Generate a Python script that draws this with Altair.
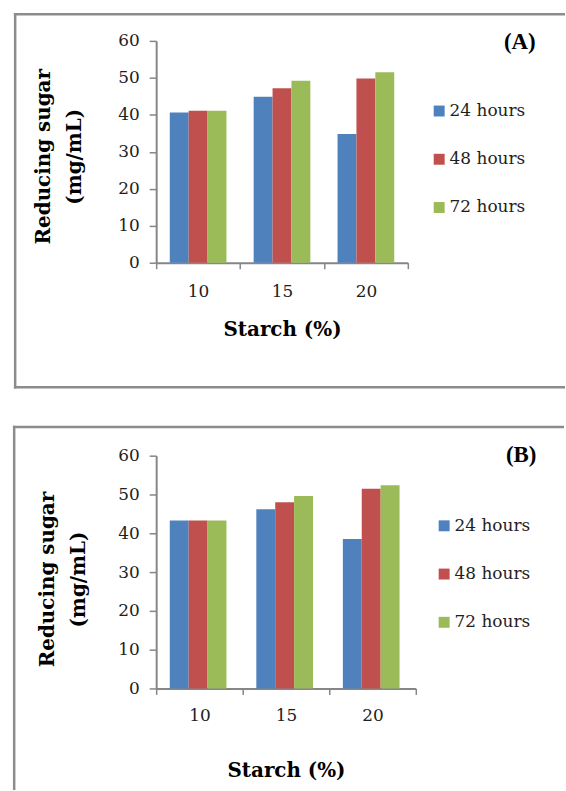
import altair as alt
import pandas as pd

# Starch concentration (%) on the x axis, incubation time as the bar groups
starch = ["10", "15", "20"]
durations = ["24 hours", "48 hours", "72 hours"]
colors = ["#4F81BD", "#C0504D", "#9BBB59"]
y_ticks = [0, 10, 20, 30, 40, 50, 60]

# Reducing sugar (mg/mL), panel (A)
a_24h = [40.6, 44.9, 34.8]
a_48h = [41.1, 47.2, 49.8]
a_72h = [41.1, 49.2, 51.5]

# Reducing sugar (mg/mL), panel (B)
b_24h = [43.3, 46.2, 38.5]
b_48h = [43.3, 48.0, 51.5]
b_72h = [43.3, 49.6, 52.4]

LABEL_FONT = "DejaVu Serif"
FRAME = "#8c8c8c"
AXIS = "#868686"


def long_table(series):
    rows = []
    for dur, vals in zip(durations, series):
        for s, v in zip(starch, vals):
            rows.append({"starch": s, "duration": dur, "value": v})
    return pd.DataFrame(rows)


one_row = pd.DataFrame({"k": [0]})


def frame_piece(x, x2, y, y2):
    return alt.Chart(one_row).mark_rect(color=FRAME).encode(
        x=alt.value(x), x2=alt.value(x2), y=alt.value(y), y2=alt.value(y2)
    )


def panel(df, tag, w, h, off_pad, legend_x, legend_y, ytitle_x, ytitle_y,
          xtitle_y, xlabel_pad, frame, tag_xy):
    bars = alt.Chart(df).mark_bar().encode(
        x=alt.X(
            "starch:N", sort=starch,
            scale=alt.Scale(paddingInner=0, paddingOuter=0),
            axis=alt.Axis(
                title="Starch (%)", labelAngle=0, tickBand="extent",
                tickSize=6, labelPadding=xlabel_pad,
                titleY=xtitle_y, titleBaseline="alphabetic",
            ),
        ),
        xOffset=alt.XOffset(
            "duration:N", sort=durations,
            scale=alt.Scale(paddingInner=0, paddingOuter=off_pad),
        ),
        y=alt.Y(
            "value:Q",
            scale=alt.Scale(domain=[0, 60], nice=False),
            axis=alt.Axis(
                values=y_ticks, title=["Reducing sugar", "(mg/mL)"],
                titleX=ytitle_x, titleY=ytitle_y, titleBaseline="top",
                titleAlign="center", titleAngle=-90, titleLineHeight=31,
                tickSize=7, labelPadding=10, grid=False,
            ),
        ),
        color=alt.Color(
            "duration:N", sort=durations,
            scale=alt.Scale(domain=durations, range=colors),
            legend=alt.Legend(
                title=None, orient="none", legendX=legend_x, legendY=legend_y,
                symbolType="square", symbolSize=121, symbolStrokeWidth=0,
                rowPadding=30.5, labelOffset=2, padding=0,
            ),
        ),
    ).properties(width=w, height=h)

    left, right, top, bottom = frame
    pieces = [frame_piece(left, right, top, top + 2.5)]
    if bottom is not None:
        pieces.append(frame_piece(left, left + 2.5, top, bottom + 2.5))
        pieces.append(frame_piece(left, right, bottom, bottom + 2.5))

    label = alt.Chart(one_row).mark_text(
        font="Liberation Serif", fontWeight="bold", fontSize=23,
        align="center", baseline="middle", color="black",
    ).encode(text=alt.value(tag), x=alt.value(tag_xy[0]), y=alt.value(tag_xy[1]))

    return alt.layer(bars, label, *pieces)


panel_a = panel(
    long_table([a_24h, a_48h, a_72h]), "(A)", 253, 223, 0.72,
    legend_x=276, legend_y=62, ytitle_x=-123, ytitle_y=116,
    xtitle_y=73, xlabel_pad=15,
    frame=(-143, 411, -28, 347), tag_xy=(365.5, 1),
)

panel_b = panel(
    long_table([b_24h, b_48h, b_72h]), "(B)", 261, 234, 0.76,
    legend_x=281, legend_y=62, ytitle_x=-119, ytitle_y=124,
    xtitle_y=88.5, xlabel_pad=13,
    frame=(-144, 410, -30, None), tag_xy=(367, -0.5),
)

# the open-bottom frame of (B) runs down to the page edge
panel_b = alt.layer(panel_b, frame_piece(-144, -141.5, -30, 336))

chart = alt.vconcat(panel_a, panel_b, spacing=36).resolve_scale(
    color="independent", x="independent", y="independent"
).resolve_legend(color="independent").properties(
    padding={"left": 12, "top": 10, "right": 0, "bottom": 0},
    background="white",
).configure_view(stroke="transparent").configure_axis(
    labelFont=LABEL_FONT, labelFontSize=17, labelColor="#1e1e1e",
    titleFont=LABEL_FONT, titleFontSize=20, titleFontWeight="bold",
    titleColor="black", domainColor=AXIS, domainWidth=2,
    tickColor=AXIS, tickWidth=1.5,
).configure_legend(
    labelFont=LABEL_FONT, labelFontSize=17, labelColor="#1e1e1e",
)

chart.save("out.html", embed_options={"renderer": "svg", "actions": False})
